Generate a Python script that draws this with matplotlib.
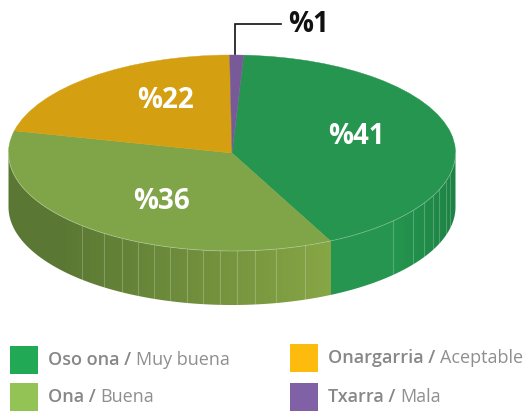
import numpy as np
import matplotlib
matplotlib.use("Agg")
import matplotlib.pyplot as plt
from matplotlib.patches import Wedge, Rectangle, Polygon
from matplotlib.transforms import Affine2D
from matplotlib.colors import to_rgb

# data
labels_eu = ["Oso ona", "Ona", "Onargarria", "Txarra"]
labels_es = ["Muy buena", "Buena", "Aceptable", "Mala"]
printed = ["%41", "%36", "%22", "%1"]
drawn_shares = [41.9, 35.9, 21.2, 1.0]   # slice sizes
top_colors = ["#25954f", "#7fa548", "#d4a012", "#785a98"]
key_colors = ["#21a956", "#94c355", "#fdbb0e", "#8161a5"]

# layout (pixels)
W, H = 526, 412
CX, CY, RX, RY, DEPTH = 232, 153, 223.5, 98, 54
START = 3.0                # clock-angle of first slice
FACETS = [-42, -35, -29.5, -25, -20.5, -16, -11.7, -7.5, -3, 1.2, 6, 11.4, 19,
          46, 54, 59, 64, 68, 73, 77]   # facet lines: angle off the bottom, toward the right

plt.rcParams["font.family"] = ["Open Sans", "DejaVu Sans"]
fig = plt.figure(figsize=(W / 100, H / 100), dpi=100)
ax = fig.add_axes([0, 0, 1, 1])
ax.set_xlim(0, W)
ax.set_ylim(H, 0)
ax.axis("off")


def rim(a):
    r = np.radians(a)
    return CX + RX * np.sin(r), CY - RY * np.cos(r)


edges = START + np.concatenate([[0], np.cumsum(drawn_shares)]) * 3.6
split_x = rim(edges[1])[0]


def mix(c0, c1, t):
    return np.array(to_rgb(c0)) * (1 - t) + np.array(to_rgb(c1)) * t


# side wall: colour depends only on x, clipped to the wall outline
xs = np.arange(W) + 0.5
grad = np.zeros((1, W, 3))
for i, x in enumerate(xs):
    if x >= split_x:
        grad[0, i] = mix("#25954f", "#1d8345", np.clip((x - 395) / 60, 0, 1))
    else:
        grad[0, i] = mix("#5a7833", "#87a645", np.clip((x - 60) / (split_x - 60), 0, 1))
aa = np.linspace(90, 270, 300)
tx, ty = rim(aa)
outline = np.column_stack([np.r_[tx, tx[::-1]], np.r_[ty, ty[::-1] + DEPTH]])
wall = Polygon(outline, closed=True, transform=ax.transData, facecolor="none", edgecolor="none")
ax.add_patch(wall)
im = ax.imshow(grad, extent=(0, W, H, 0), aspect="auto", zorder=1, interpolation="nearest")
im.set_clip_path(wall)
ax.set_xlim(0, W)
ax.set_ylim(H, 0)

# facet lines
for f in FACETS:
    x, y = rim(180 - f)
    ax.plot([x, x], [y, y + DEPTH], color="white", alpha=0.22, lw=0.8, zorder=2)

# top face
tr = Affine2D().scale(RX, RY).translate(CX, CY) + ax.transData
for i, c in enumerate(top_colors):
    ax.add_patch(Wedge((0, 0), 1, edges[i] - 90, edges[i + 1] - 90, transform=tr,
                       facecolor=c, edgecolor=c, lw=0.3, zorder=3))

# rim highlight
ax.plot(tx, ty, color="white", alpha=0.28, lw=0.6, zorder=4)

# slice labels
pos = [(356, 136), (162, 201), (166, 100)]
for (x, y), s in zip(pos, printed[:3]):
    ax.text(x, y, s, color="white", fontsize=20, fontweight="bold", ha="center", va="center", zorder=5)

# leader
ax.plot([235, 235, 281], [54, 24, 24], color="#111111", lw=1.2, zorder=5, solid_joinstyle="miter")
ax.text(288, 24, printed[3], color="#111111", fontsize=20, fontweight="bold", ha="left", va="center")

# legend
key_pos = [(10, 346), (10, 383), (290, 344), (290, 383)]
for (x, y), eu, es, c in zip(key_pos, labels_eu, labels_es, key_colors):
    ax.add_patch(Rectangle((x, y), 28, 28, facecolor=c, edgecolor="none"))
    t = ax.text(x + 38, y + 14, eu + " / ", color="#878787", fontsize=13, fontweight="semibold",
                ha="left", va="center")
    ax.annotate(es, xy=(1, 0), xycoords=t, va="bottom", ha="left", color="#8f8f8f", fontsize=13)

fig.savefig("out.png", dpi=100)
